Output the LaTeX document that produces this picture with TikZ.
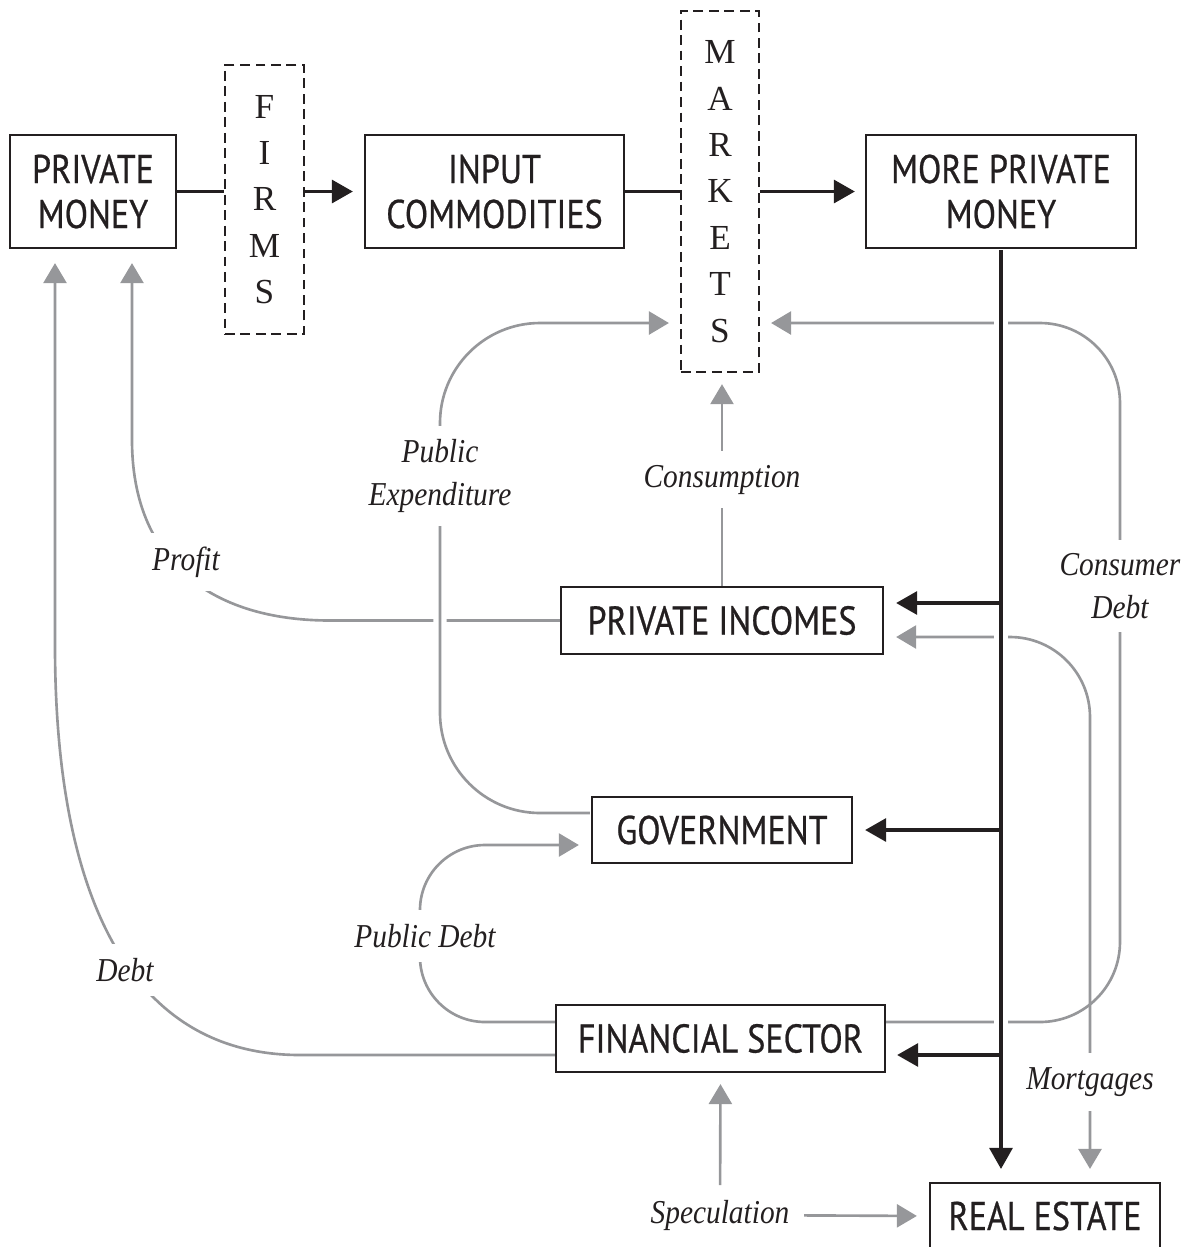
\documentclass[tikz,border=0pt]{standalone}
\usepackage{fontspec}
\setmainfont{Liberation Serif}
\newfontfamily\boxfont[FakeStretch=0.85,FakeBold=0.6]{PT Sans}
\newfontfamily\lblfont[FakeStretch=0.88]{Liberation Serif}
\usepackage{tikz}
\usetikzlibrary{arrows.meta,calc}
\definecolor{ink}{RGB}{35,31,32}
\definecolor{flow}{RGB}{150,151,154}

\begin{document}
\begin{tikzpicture}[x=0.01cm,y=-0.01cm,
  box/.style={draw=ink,line width=0.6pt,text=ink,align=center,inner sep=0pt,
    font=\boxfont\fontsize{11.4}{12.8}\selectfont},
  dbox/.style={draw=ink,line width=0.6pt,dash pattern=on 2.8pt off 1.6pt,text=ink,
    align=center,inner sep=0pt,font=\fontsize{10}{13.2}\selectfont},
  lbl/.style={fill=white,text=ink,align=center,inner sep=4pt,
    font=\lblfont\itshape\fontsize{9.5}{12}\selectfont},
  blk/.style={draw=ink,line width=0.9pt,-{Triangle[length=0.21cm,width=0.23cm]}},
  gry/.style={draw=flow,line width=0.75pt,-{Triangle[length=0.2cm,width=0.23cm]}},
  halo/.style={preaction={-,draw=white,line width=3.8pt}}]
\useasboundingbox (0,0) rectangle (1189,1247);

% boxes
\node[box,minimum width=1.66cm,minimum height=1.13cm] (pm) at (93,191.5) {PRIVATE\\MONEY};
\node[dbox,minimum width=0.79cm,minimum height=2.69cm] (firms) at (264.5,199.5) {F\\I\\R\\M\\S};
\node[box,minimum width=2.59cm,minimum height=1.13cm] (ic) at (494.5,191.5) {INPUT\\COMMODITIES};
\node[dbox,minimum width=0.78cm,minimum height=3.61cm] (mkt) at (720,191.5) {M\\A\\R\\K\\E\\T\\S};
\node[box,minimum width=2.70cm,minimum height=1.13cm] (mpm) at (1001,191.5) {MORE PRIVATE\\MONEY};
\node[box,minimum width=3.22cm,minimum height=0.67cm] (pinc) at (722,620.5) {PRIVATE INCOMES};
\node[box,minimum width=2.60cm,minimum height=0.66cm] (gov) at (722,830) {GOVERNMENT};
\node[box,minimum width=3.29cm,minimum height=0.67cm] (fin) at (720.5,1038.5) {FINANCIAL SECTOR};
\node[box,minimum width=2.30cm,minimum height=0.66cm] (re) at (1045,1216) {REAL ESTATE};

% circuit on top
\draw[ink,line width=0.9pt] (pm.east) -- (pm.east -| firms.west);
\draw[blk,shorten >=0.11cm] (pm.east -| firms.east) -- (ic.west);
\draw[ink,line width=0.9pt] (ic.east) -- (ic.east -| mkt.west);
\draw[blk,shorten >=0.1cm] (ic.east -| mkt.east) -- (mpm.west);

% grey flows
\draw[gry,shorten >=0.11cm] (pinc.north) -- node[lbl]{Consumption} (pinc.north |- mkt.south);
\draw[gry,shorten >=0.14cm] (pinc.west) -- (330,620.5) .. controls (210,620.5) and (132,560) .. (132,440)
  -- ($(pm.south)+(39,0)$);
\draw[gry,shorten >=0.14cm] ($(fin.west)+(0,16.5)$) -- (300,1055) .. controls (135,1055) and (56,905) .. (55,650)
  -- ($(pm.south)+(-38,0)$);
\draw[gry,halo,rounded corners=1cm,shorten <=0.3pt,shorten >=0.11cm] ($(gov.west)+(0,-17)$) -- (440,813)
  -- (440,323) -- ($(mkt.west)+(0,131.5)$);
\draw[gry,rounded corners=0.65cm,shorten >=0.12cm] ($(fin.west)+(0,-16.5)$) -- (420,1022) -- (420,845)
  -- ($(gov.west)+(0,15)$);
\draw[gry,rounded corners=0.8cm,shorten >=0.11cm] ($(fin.east)+(0,-16.5)$) -- (1120,1022) -- (1120,323)
  -- ($(mkt.east)+(0,131.5)$);
\draw[gry,{Triangle[length=0.2cm,width=0.23cm]}-{Triangle[length=0.2cm,width=0.23cm]},rounded corners=0.8cm,
  shorten <=0.12cm,shorten >=0.13cm] ($(pinc.east)+(0,16.5)$) -- (1090,637) -- ($(re.north)+(45,0)$);
\node[lbl] (spec) at (720,1215) {Speculation};
\draw[gry,shorten >=0.11cm] (spec) -- (fin.south);
\draw[gry,shorten >=0.12cm] (spec) -- (re.west);

% labels
\node[lbl] at (186,562) {Profit};
\node[lbl] at (125,970) {Debt};
\node[lbl] at (440,476) {Public\\Expenditure};
\node[lbl] at (425,936) {Public Debt};
\node[lbl] at (1120,586) {Consumer\\Debt};
\node[lbl] at (1090,1082) {Mortgages};

% money going down
\draw[blk,halo,shorten <=0.3pt,shorten >=0.13cm] (mpm.south) -- (mpm.south |- re.north);
\draw[blk,shorten >=0.12cm] ($(mpm.south |- pinc.east)+(0,-17.5)$) -- ($(pinc.east)+(0,-17.5)$);
\draw[blk,shorten >=0.12cm] (mpm.south |- gov.east) -- (gov.east);
\draw[blk,shorten >=0.11cm] ($(mpm.south |- fin.east)+(0,16.5)$) -- ($(fin.east)+(0,16.5)$);
\end{tikzpicture}
\end{document}
